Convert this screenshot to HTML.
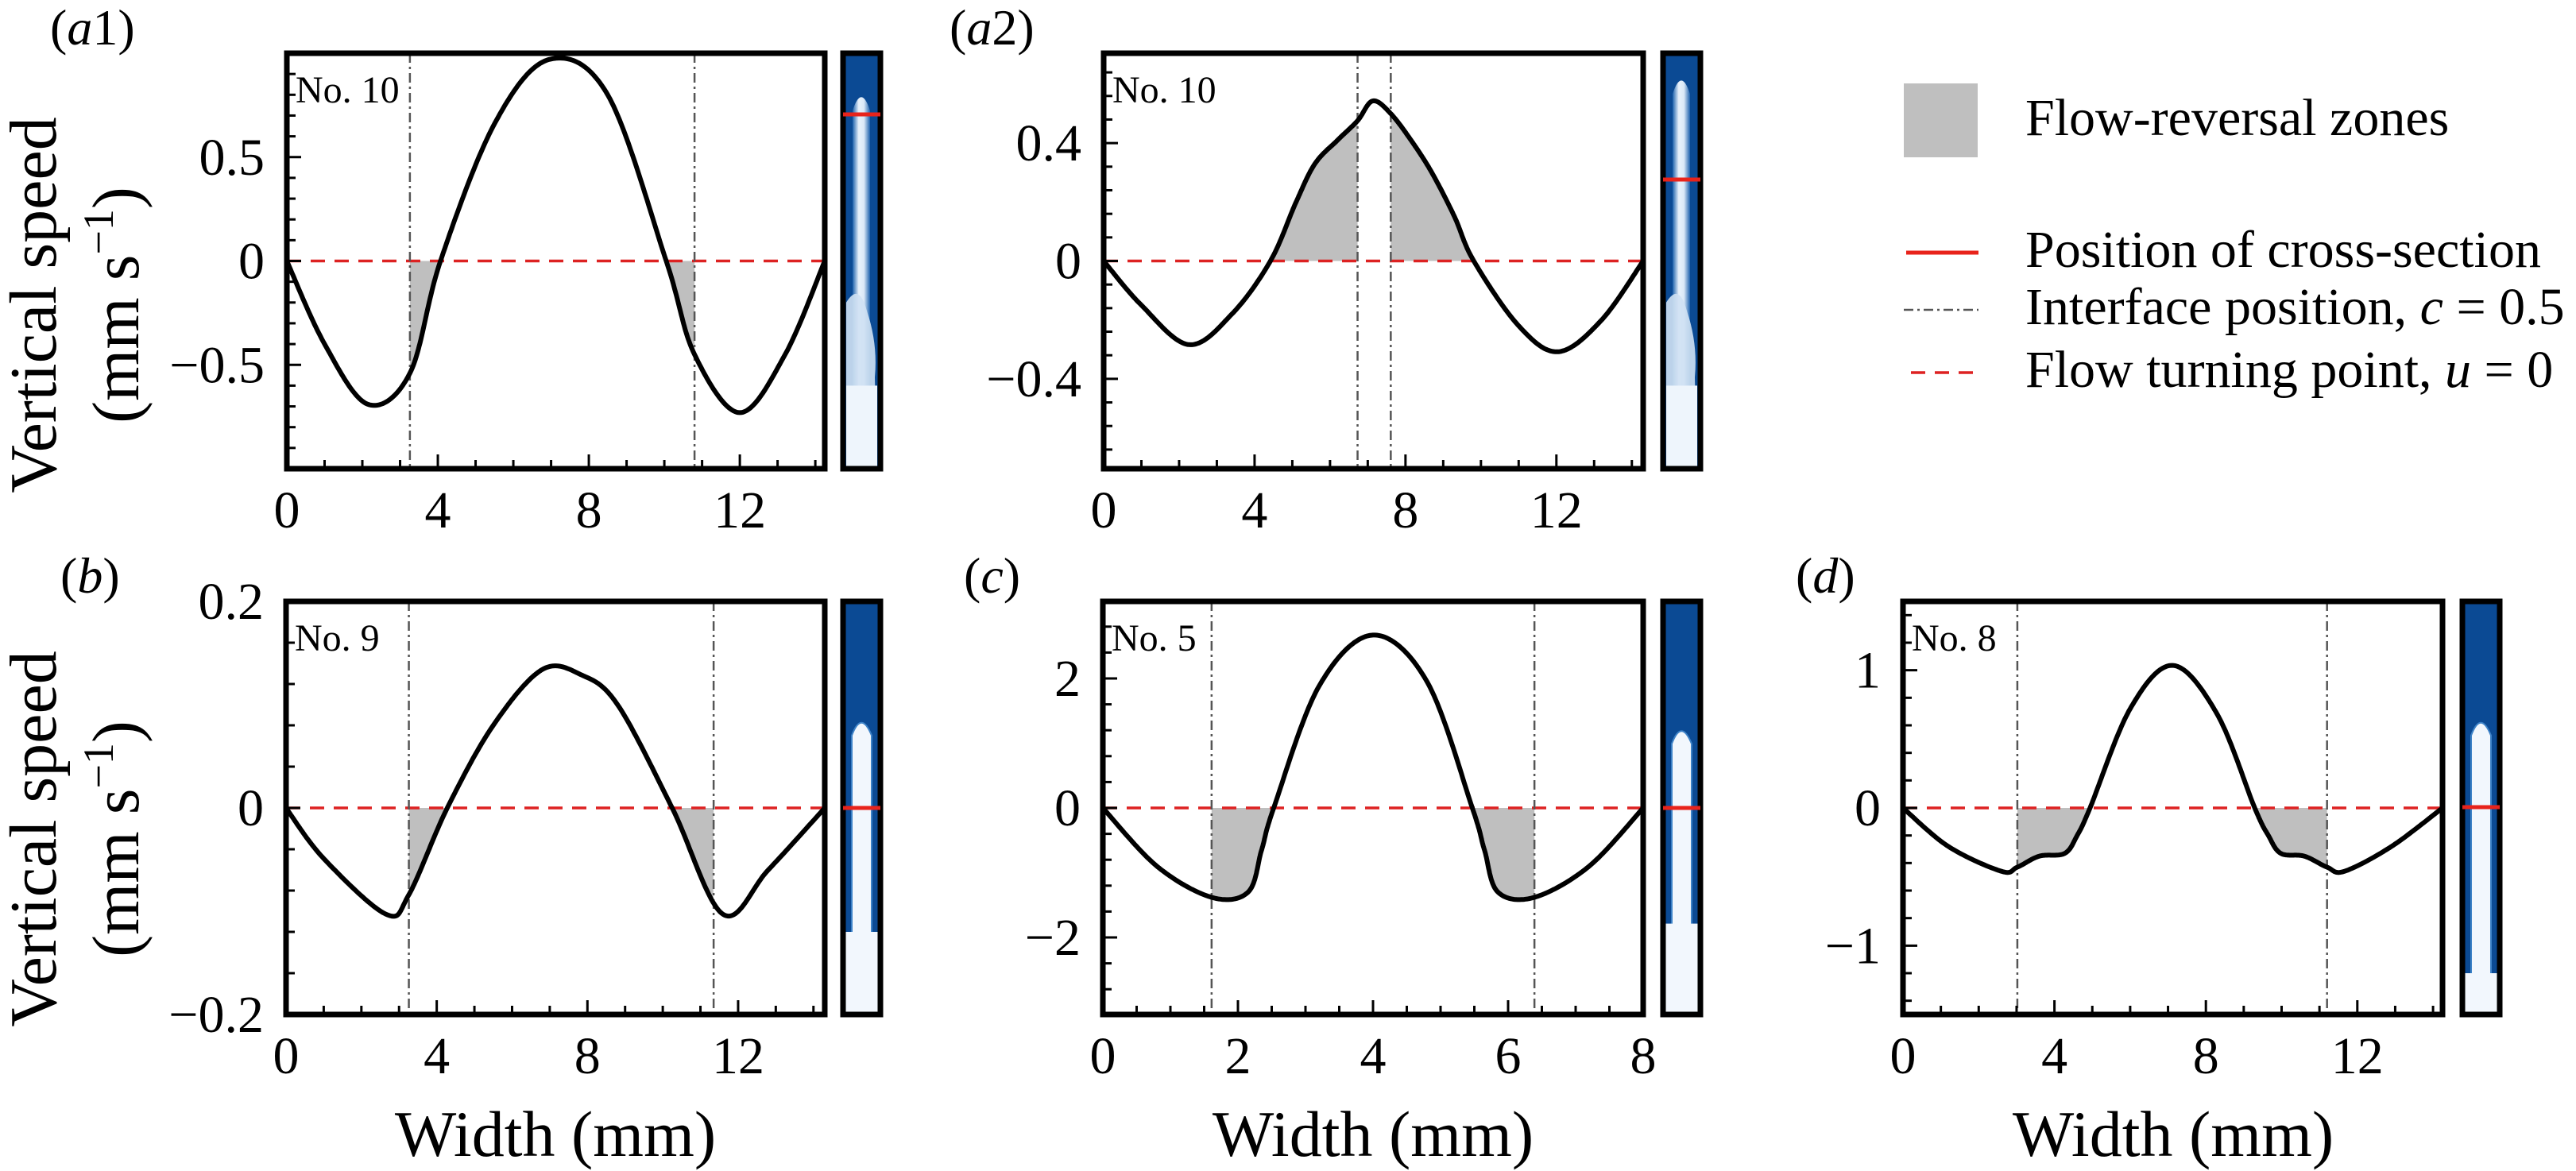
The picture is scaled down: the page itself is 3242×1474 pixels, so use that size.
<!DOCTYPE html>
<html><head><meta charset="utf-8">
<style>
html,body{margin:0;padding:0;background:#fff;}
svg{display:block;font-family:"Liberation Serif","Times New Roman",serif;}
text{font-family:"Liberation Serif","Times New Roman",serif;}
</style></head>
<body>
<svg id="fig" width="3242" height="1474" viewBox="0 0 3242 1474" xmlns="http://www.w3.org/2000/svg" font-family="Liberation Serif, serif">
<defs>
<linearGradient id="plumeA" x1="0" y1="0" x2="1" y2="0">
<stop offset="0" stop-color="#1e62ad"/><stop offset="0.35" stop-color="#e8f1fb"/><stop offset="0.65" stop-color="#dbe9f7"/><stop offset="1" stop-color="#1e62ad"/>
</linearGradient>
</defs>
<g id="panels"></g>
<g id="legend">
<rect x="2396" y="105" width="93" height="93" fill="#bfbfbf"/>
<text x="2549" y="170" font-size="66" font-family="Liberation Serif, serif">Flow-reversal zones</text>
<line x1="2399" y1="318" x2="2490" y2="318" stroke="#e8231b" stroke-width="5"/>
<text x="2549" y="336" font-size="66" font-family="Liberation Serif, serif">Position of cross-section</text>
<line x1="2396" y1="390" x2="2490" y2="390" stroke="#555" stroke-width="2.5" stroke-dasharray="12,5,3,5"/>
<text x="2549" y="408" font-size="66" font-family="Liberation Serif, serif">Interface position, <tspan font-style="italic">c</tspan> = 0.5</text>
<line x1="2405" y1="469" x2="2490" y2="469" stroke="#dd2222" stroke-width="3.5" stroke-dasharray="18,12"/>
<text x="2549" y="487" font-size="66" font-family="Liberation Serif, serif">Flow turning point, <tspan font-style="italic">u</tspan> = 0</text>
</g>
</svg>
<script>
// ---- data ----
const a1X = [0,1,2.15,3.26,4.07,5.5,6.95,8.5,10.05,10.8,12.0,13.2,14.25];
const a1Y = [0,-0.4,-0.69,-0.54,0,0.66,0.97,0.8,0,-0.45,-0.73,-0.45,0];
const a1Iface = [3.26,10.8];
const a1Fill = [[3.26,4.07],[10.05,10.8]];

const a2X = [0,1,2.26,3.4,4.42,5.1,5.6,6.2,6.73,7.13,7.61,8.2,8.72,9.3,9.81,11,12.05,13.2,14.3];
const a2Y = [0,-0.15,-0.284,-0.18,0,0.2,0.33,0.41,0.476,0.543,0.5,0.4,0.295,0.15,0,-0.22,-0.308,-0.2,0];
const a2Iface = [6.73,7.61];
const a2Fill = [[4.42,6.73],[7.61,9.81]];

const bX = [0,1,2.66,3.26,4.28,5.5,6.8,7.83,8.8,10.25,11.6,12.8,14.3];
const bY = [0,-0.049,-0.103,-0.084,0,0.08,0.134,0.129,0.1,0,-0.103,-0.06,0];
const bIface = [3.26,11.35];
const bFill = [[3.26,4.28],[10.25,11.35]];

const cX = [0,0.8,1.61,2.15,2.35,2.53,3.2,4.0,4.8,5.47,5.65,5.85,6.39,7.2,8];
const cY = [0,-0.9,-1.38,-1.3,-0.65,0,1.88,2.67,1.95,0,-0.65,-1.3,-1.38,-0.9,0];
const cIface = [1.61,6.39];
const cFill = [[1.61,2.53],[5.47,6.39]];

const dX = [0,1.2,2.6,3.02,3.6,4.27,4.6,4.94,6,7.13,8.3,9.29,9.65,9.98,10.6,11.2,11.66,12.9,14.25];
const dY = [0,-0.28,-0.46,-0.43,-0.35,-0.33,-0.2,0,0.72,1.035,0.68,0,-0.2,-0.33,-0.35,-0.43,-0.46,-0.28,0];
const dIface = [3.02,11.2];
const dFill = [[3.02,4.94],[9.29,11.2]];

const a1YTicks = [-0.5,0,0.5]; const a1YLabels = ["\u22120.5","0","0.5"];
const a2YTicks = [-0.4,0,0.4]; const a2YLabels = ["\u22120.4","0","0.4"];
const bYTicks = [-0.2,0,0.2]; const bYLabels = ["\u22120.2","0","0.2"];
const cYTicks = [-2,0,2]; const cYLabels = ["\u22122","0","2"];
const dYTicks = [-1,0,1]; const dYLabels = ["\u22121","0","1"];
const wideXTicks = [0,4,8,12];
const cXTicks = [0,2,4,6,8];

const NS = "http://www.w3.org/2000/svg";
const FONT = "Liberation Serif, serif";
const root = document.getElementById('panels');
function el(tag, attrs, parent){
  const e = document.createElementNS(NS, tag);
  for (const k in attrs) e.setAttribute(k, attrs[k]);
  if (tag === 'text') e.setAttribute('font-family', FONT);
  (parent||root).appendChild(e);
  return e;
}
function spline(xs, ys){
  const pts=[]; const n=xs.length;
  for(let i=0;i<n-1;i++){
    const p0=[xs[Math.max(i-1,0)],ys[Math.max(i-1,0)]], p1=[xs[i],ys[i]], p2=[xs[i+1],ys[i+1]], p3=[xs[Math.min(i+2,n-1)],ys[Math.min(i+2,n-1)]];
    for(let s=0;s<30;s++){
      const t=s/30,t2=t*t,t3=t2*t;
      const f=(a,b,c,d)=>0.5*((2*b)+(-a+c)*t+(2*a-5*b+4*c-d)*t2+(-a+3*b-3*c+d)*t3);
      pts.push([f(p0[0],p1[0],p2[0],p3[0]), f(p0[1],p1[1],p2[1],p3[1])]);
    }
  }
  pts.push([xs[n-1],ys[n-1]]);
  return pts;
}

function panel(cfg){
  const g = el('g',{});
  
  
  const {L,R,T,B,xmax,ymax} = cfg;
  const sx = v => L + (v/xmax)*(R-L);
  const sy = v => (T+B)/2 - (v/ymax)*((B-T)/2);
  const curve = spline(cfg.xs, cfg.ys);
  cfg.fills.forEach((f,i)=>{
    const seg = curve.filter(p=>p[0]>=f[0]&&p[0]<=f[1]);
    let d = `M${sx(f[0])},${sy(0)} `;
    seg.forEach(p=>{ d += `L${sx(p[0]).toFixed(1)},${sy(p[1]).toFixed(1)} `; });
    d += `L${sx(f[1])},${sy(0)} Z`;
    const p = el('path',{d:d, fill:'#bfbfbf', stroke:'none'}, g);
    
    
  });
  const z = el('line',{x1:L,y1:sy(0),x2:R,y2:sy(0),stroke:'#dd2222','stroke-width':3.5,'stroke-dasharray':'18,12'}, g);
  
  
  cfg.iface.forEach((v,i)=>{
    const l = el('line',{x1:sx(v),y1:T,x2:sx(v),y2:B,stroke:'#555','stroke-width':2.5,'stroke-dasharray':'12,5,3,5'}, g);
    
    
  });
  let d = ''; curve.forEach((p,i)=>{ d += (i?'L':'M')+sx(p[0]).toFixed(1)+','+sy(p[1]).toFixed(1)+' '; });
  const c = el('path',{d:d,fill:'none',stroke:'#000','stroke-width':6,'stroke-linejoin':'round'}, g);
  
  
  for(let v=0; v<=xmax+1e-6; v+=cfg.xMinor){
    const major = cfg.xTicks.some(t=>Math.abs(t-v)<1e-6);
    el('line',{x1:sx(v),y1:B,x2:sx(v),y2:B-(major?18:11),stroke:'#000','stroke-width':3}, g);
  }
  for(let v=-Math.floor(ymax/cfg.yMinor+1e-6)*cfg.yMinor; v<=ymax+1e-6; v+=cfg.yMinor){
    const major = cfg.yTicks.some(t=>Math.abs(t-v)<1e-6);
    el('line',{x1:L,y1:sy(v),x2:L+(major?18:11),y2:sy(v),stroke:'#000','stroke-width':3}, g);
  }
  cfg.xTicks.forEach(v=>{
    const t = el('text',{x:sx(v),y:B+74,'font-size':66,'text-anchor':'middle'}, g);
    t.textContent = v;
    
    
  });
  cfg.yTicks.forEach((v,i)=>{
    const t = el('text',{x:L-28,y:sy(v)+22,'font-size':66,'text-anchor':'end'}, g);
    t.textContent = cfg.yLabels[i];
    
    
  });
  const fr = el('rect',{x:L,y:T,width:R-L,height:B-T,fill:'none',stroke:'#000','stroke-width':7}, g);
  
  
  const rl = el('text',{x:L+11,y:T+62,'font-size':48}, g);
  rl.textContent = cfg.run;
  
  
  const pl = el('text',{x:cfg.lx,y:T-11,'font-size':64}, g);
  pl.innerHTML = '(<tspan font-style="italic">'+cfg.letter+'</tspan>'+cfg.num+')';
  
  
  const SX = cfg.stripX, SW = 47;
  const sg = el('g',{}, g);
  
  
  el('rect',{x:SX,y:T,width:SW,height:B-T,fill:'#0b4a94'}, sg);
  const pt = T + cfg.plumeTop*(B-T);
  if(cfg.turb){
    el('path',{d:`M${SX+12},${B} L${SX+12},${pt+20} Q${SX+23},${pt-14} ${SX+34},${pt+20} L${SX+34},${B} Z`,fill:'url(#plumeA)'}, sg);
    el('path',{d:`M${SX+4},${B} L${SX+4},${T+(B-T)*0.6} Q${SX+20},${T+(B-T)*0.55} ${SX+30},${T+(B-T)*0.62} Q${SX+44},${T+(B-T)*0.7} ${SX+40},${T+(B-T)*0.78} L${SX+43},${B} Z`,fill:'#cfe1f3',opacity:0.9}, sg);
    el('rect',{x:SX+4,y:T+(B-T)*0.8,width:39,height:(B-T)*0.2,fill:'#eef5fc'}, sg);
  } else {
    el('path',{d:`M${SX+11},${B} L${SX+11},${pt+18} Q${SX+23},${pt-14} ${SX+36},${pt+18} L${SX+36},${B} Z`,fill:'#f2f7fd',stroke:'#3d82c7','stroke-width':2}, sg);
    el('rect',{x:SX+3,y:T+(B-T)*cfg.fullWhite,width:41,height:(B-T)*(1-cfg.fullWhite),fill:'#f2f7fd'}, sg);
  }
  el('rect',{x:SX,y:T,width:SW,height:B-T,fill:'none',stroke:'#000','stroke-width':7}, sg);
  const rline = el('line',{x1:SX,y1:cfg.redY,x2:SX+SW,y2:cfg.redY,stroke:'#e8231b','stroke-width':5}, sg);
  
  
}

panel({id:'a1',letter:'a',num:'1',lx:63,run:'No. 10',L:361,R:1038,T:67,B:590,xmax:14.25,ymax:1.0,xs:a1X,ys:a1Y,iface:a1Iface,fills:a1Fill,xTicks:wideXTicks,xMinor:1,yTicks:a1YTicks,yLabels:a1YLabels,yMinor:0.1,stripX:1061,plumeTop:0.1,turb:true,redY:144});
panel({id:'a2',letter:'a',num:'2',lx:1195,run:'No. 10',L:1389,R:2068,T:67,B:590,xmax:14.3,ymax:0.705,xs:a2X,ys:a2Y,iface:a2Iface,fills:a2Fill,xTicks:wideXTicks,xMinor:1,yTicks:a2YTicks,yLabels:a2YLabels,yMinor:0.08,stripX:2093,plumeTop:0.06,turb:true,redY:226});
panel({id:'b',letter:'b',num:'',lx:76,run:'No. 9',L:360,R:1038,T:757,B:1277,xmax:14.3,ymax:0.2,xs:bX,ys:bY,iface:bIface,fills:bFill,xTicks:wideXTicks,xMinor:1,yTicks:bYTicks,yLabels:bYLabels,yMinor:0.04,stripX:1061,plumeTop:0.29,turb:false,fullWhite:0.8,redY:1017});
panel({id:'c',letter:'c',num:'',lx:1213,run:'No. 5',L:1388,R:2068,T:757,B:1277,xmax:8,ymax:3.19,xs:cX,ys:cY,iface:cIface,fills:cFill,xTicks:cXTicks,xMinor:0.5,yTicks:cYTicks,yLabels:cYLabels,yMinor:0.4,stripX:2093,plumeTop:0.31,turb:false,fullWhite:0.78,redY:1017});
panel({id:'d',letter:'d',num:'',lx:2260,run:'No. 8',L:2395,R:3074,T:757,B:1277,xmax:14.25,ymax:1.5,xs:dX,ys:dY,iface:dIface,fills:dFill,xTicks:wideXTicks,xMinor:1,yTicks:dYTicks,yLabels:dYLabels,yMinor:0.2,stripX:3099,plumeTop:0.29,turb:false,fullWhite:0.9,redY:1016});

[384,1056].forEach(cy=>{
  const t1 = el('text',{x:0,y:0,'font-size':84,'text-anchor':'middle',transform:`translate(70,${cy}) rotate(-90)`});
  t1.textContent='Vertical speed';
  
  
  const t2 = el('text',{x:0,y:0,'font-size':84,'text-anchor':'middle',transform:`translate(174,${cy}) rotate(-90)`});
  t2.innerHTML='(mm s<tspan dy="-32" font-size="54">\u22121</tspan><tspan dy="32">)</tspan>';
  
  
});
[699,1728,2735].forEach(cx=>{
  const t = el('text',{x:cx,y:1455,'font-size':82,'text-anchor':'middle'});
  t.textContent='Width (mm)';
  
  
});
</script>
</body></html>
